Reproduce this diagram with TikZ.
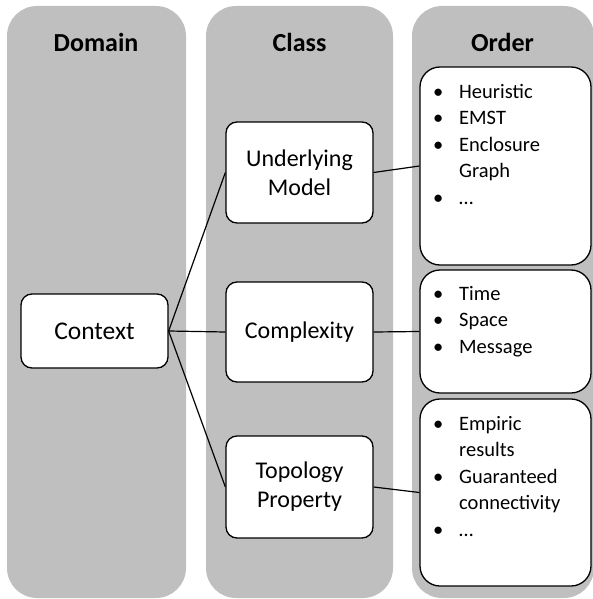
\documentclass[tikz,border=0pt]{standalone}
\usepackage{fontspec}
\setmainfont{Carlito}
\begin{document}
\begin{tikzpicture}[x=1pt,y=-1pt,
  col/.style={fill=colgray, draw=none, rounded corners=30pt},
  cbox/.style={draw, line width=1.3pt, fill=white, rounded corners=11pt, inner sep=0pt, align=center, font=\fontsize{24}{29}\selectfont},
  obox/.style={draw, line width=1.3pt, fill=white, rounded corners=20pt, inner sep=0pt, minimum width=171pt},
  otext/.style={anchor=north west, inner sep=0pt, align=left, font=\fontsize{20.5}{26.5}\selectfont},
  head/.style={font=\fontsize{26}{31}\selectfont\bfseries},
  conn/.style={line width=1.2pt}]
\definecolor{colgray}{RGB}{191,191,191}
\useasboundingbox (0,0) rectangle (593,599);
\newcommand\itm{\makebox[26pt][l]{\textbullet}}
\newcommand\cnt{\hspace*{26pt}}
\newcommand\fst{\rule{0pt}{20pt}}
% columns
\fill[col] (7,6) rectangle (186,598);
\fill[col] (206,6) rectangle (393,598);
\fill[col] (412,6) rectangle (594,598);
% headers
\node[head] (hd) at (96,42) {Domain};
\node[head] (hc) at (299.5,42) {Class};
\node[head] (ho) at (502.5,42) {Order};
% boxes
\node[cbox, minimum width=147pt, minimum height=74pt, font=\fontsize{25.5}{30}\selectfont] (ctx) at (94.5,331) {Context};
\node[cbox, minimum width=147pt, minimum height=101pt] (um) at (299.5,172.5) {Underlying\\Model};
\node[cbox, minimum width=147pt, minimum height=100pt] (cx) at (299.5,332) {Complexity};
\node[cbox, minimum width=147pt, minimum height=102pt] (tp) at (299.5,487) {Topology\\Property};
\node[obox, minimum height=198pt] (o1) at (505.5,166) {};
\node[obox, minimum height=123pt] (o2) at (505.5,331.5) {};
\node[obox, minimum height=187pt] (o3) at (505.5,492.5) {};
% order texts
\node[otext] (t1) at (433,78) {\fst\itm Heuristic\\\itm EMST\\\itm Enclosure\\\cnt Graph\\\itm \dots};
\node[otext] (t2) at (433,280) {\fst\itm Time\\\itm Space\\\itm Message};
\node[otext] (t3) at (433,410) {\fst\itm Empiric\\\cnt results\\\itm Guaranteed\\\cnt connectivity\\\itm \dots};
% connectors
\draw[conn] (ctx.east) -- (um.west);
\draw[conn] (ctx.east) -- (cx.west);
\draw[conn] (ctx.east) -- (tp.west);
\draw[conn] (um.east) -- (o1.west);
\draw[conn] (cx.east) -- (o2.west);
\draw[conn] (tp.east) -- (o3.west);
\end{tikzpicture}
\end{document}
